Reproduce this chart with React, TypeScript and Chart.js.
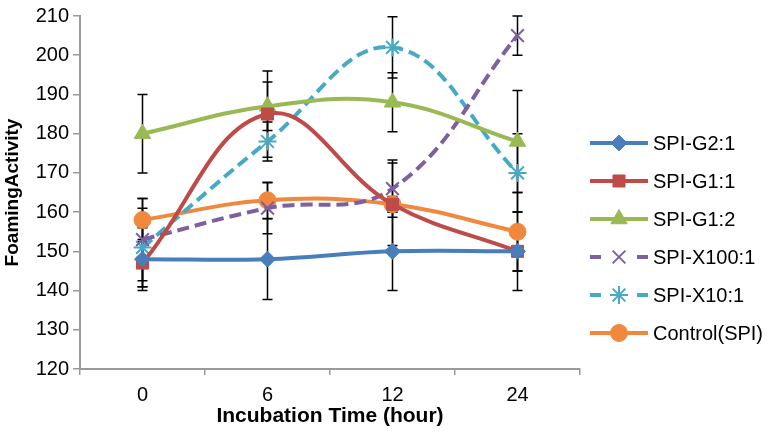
import React, { useEffect, useRef } from "react";
import { Chart, registerables } from "chart.js";
import { drawPoint } from "chart.js/helpers";

Chart.register(...registerables);

const categories = ["0", "6", "12", "24"];

const g21 = [148, 148, 150, 150];
const g11 = [147, 185, 162, 150];
const g12 = [180, 187, 188, 178];
const x1001 = [153, 161, 166, 205];
const x101 = [151, 178, 202, 170];
const control = [158, 163, 162, 155];

const g21Err = [8, 10.3, 10, 5];
const g11Err = [6, 11, 10.5, 10];
const g12Err = [10, 6.2, 7.5, 13];
const x1001Err = [10.5, 6.5, 7.3, 5];
const x101Err = [10, 5, 7.8, 10];
const controlErr = [5.5, 4.6, 2, 10];

const seriesNames = ["SPI-G2:1", "SPI-G1:1", "SPI-G1:2", "SPI-X100:1", "SPI-X10:1", "Control(SPI)"];

const yMin = 120;
const yMax = 210;
const yStep = 10;

const FONT = "'Liberation Sans', Arial, Helvetica, sans-serif";

export default function App() {
  const ref = useRef<HTMLCanvasElement | null>(null);

  useEffect(() => {
    document.body.style.margin = "0";
    const canvas = ref.current;
    if (!canvas) return;

    const mk = (
      label: string,
      data: number[],
      err: number[],
      color: string,
      pointStyle: string,
      radius: number,
      dashed: boolean,
      pbw: number
    ) => ({
      label,
      data,
      err,
      borderColor: color,
      backgroundColor: color,
      borderWidth: 4,
      borderDash: dashed ? [12, 6] : [],
      pointStyle,
      pointRadius: radius,
      pointHoverRadius: radius,
      pointBorderWidth: pbw,
      pointBorderColor: color,
      pointBackgroundColor: color,
      tension: 0.4,
      fill: false,
    });

    const datasets: any[] = [
      mk(seriesNames[0], g21, g21Err, "#4A7EBB", "rectRot", 8, false, 1),
      mk(seriesNames[1], g11, g11Err, "#BE4B48", "rect", 8.5, false, 1),
      mk(seriesNames[2], g12, g12Err, "#98B954", "triangle", 9.5, false, 1),
      mk(seriesNames[3], x1001, x1001Err, "#7D60A0", "crossRot", 9, true, 2),
      mk(seriesNames[4], x101, x101Err, "#46AAC5", "star", 9, true, 2),
      mk(seriesNames[5], control, controlErr, "#F0893E", "circle", 8.5, false, 1),
    ];

    const errorBars = {
      id: "errorBars",
      beforeDatasetsDraw(chart: any) {
        const ctx = chart.ctx;
        const ys = chart.scales.y;
        ctx.save();
        ctx.strokeStyle = "#000";
        ctx.lineWidth = 1.5;
        ctx.setLineDash([]);
        chart.data.datasets.forEach((ds: any, i: number) => {
          const meta = chart.getDatasetMeta(i);
          meta.data.forEach((pt: any, j: number) => {
            const v = ds.data[j];
            const e = ds.err[j];
            const x = pt.x;
            const yTop = ys.getPixelForValue(v + e);
            const yBot = ys.getPixelForValue(v - e);
            ctx.beginPath();
            ctx.moveTo(x, yTop);
            ctx.lineTo(x, yBot);
            ctx.moveTo(x - 5, yTop);
            ctx.lineTo(x + 5, yTop);
            ctx.moveTo(x - 5, yBot);
            ctx.lineTo(x + 5, yBot);
            ctx.stroke();
          });
        });
        ctx.restore();
      },
    };

    const legendPlugin = {
      id: "customLegend",
      afterDraw(chart: any) {
        const ctx = chart.ctx;
        ctx.save();
        const x0 = 590;
        const x1 = 648;
        const xm = (x0 + x1) / 2;
        chart.data.datasets.forEach((ds: any, i: number) => {
          const y = 143 + i * 38;
          ctx.strokeStyle = ds.borderColor;
          ctx.fillStyle = ds.backgroundColor;
          ctx.lineWidth = 4;
          ctx.setLineDash([]);
          ctx.beginPath();
          if (ds.borderDash && ds.borderDash.length) {
            ctx.moveTo(x0, y);
            ctx.lineTo(x0 + 11, y);
            ctx.moveTo(x1 - 11, y);
            ctx.lineTo(x1, y);
          } else {
            ctx.moveTo(x0, y);
            ctx.lineTo(x1, y);
          }
          ctx.stroke();
          ctx.lineWidth = ds.pointBorderWidth;
          drawPoint(ctx, {
            pointStyle: ds.pointStyle,
            radius: ds.pointRadius,
            rotation: 0,
            borderWidth: ds.pointBorderWidth,
          } as any, xm, y);
          ctx.fillStyle = "#000";
          ctx.font = `20px ${FONT}`;
          ctx.textAlign = "left";
          ctx.textBaseline = "middle";
          ctx.fillText(ds.label, 653, y + 1);
        });
        ctx.restore();
      },
    };

    const chart = new Chart(canvas, {
      type: "line",
      data: { labels: categories, datasets },
      options: {
        responsive: false,
        animation: false,
        layout: { padding: { top: 15, right: 193, left: 0, bottom: 0 } },
        plugins: { legend: { display: false }, tooltip: { enabled: false } },
        scales: {
          x: {
            type: "category",
            offset: true,
            afterFit: (s: any) => {
              s.height = 63;
            },
            grid: {
              display: true,
              drawOnChartArea: false,
              offset: true,
              tickLength: 6,
              color: "#9a9a9a",
              lineWidth: 1.5,
            },
            border: { display: true, color: "#9a9a9a", width: 2 },
            ticks: {
              color: "#000",
              font: { family: FONT, size: 20 },
              padding: 8,
            },
            title: {
              display: true,
              text: "Incubation Time (hour)",
              color: "#000",
              font: { family: FONT, size: 21, weight: "bold" },
              padding: { top: 0, bottom: 3 },
            },
          },
          y: {
            min: yMin,
            max: yMax,
            afterFit: (s: any) => {
              s.width = 80;
            },
            grid: {
              display: true,
              drawOnChartArea: false,
              tickLength: 7,
              color: "#9a9a9a",
              lineWidth: 1.5,
            },
            border: { display: true, color: "#9a9a9a", width: 2 },
            ticks: {
              stepSize: yStep,
              color: "#000",
              font: { family: FONT, size: 20 },
              padding: 4,
            },
            title: {
              display: true,
              text: "FoamingActivity",
              color: "#000",
              font: { family: FONT, size: 19, weight: "bold" },
              padding: { top: 1, bottom: 0 },
            },
          },
        },
      },
      plugins: [errorBars, legendPlugin],
    });

    return () => chart.destroy();
  }, []);

  return (
    <div style={{ width: 773, height: 432 }}>
      <canvas ref={ref} width={773} height={432} />
    </div>
  );
}
